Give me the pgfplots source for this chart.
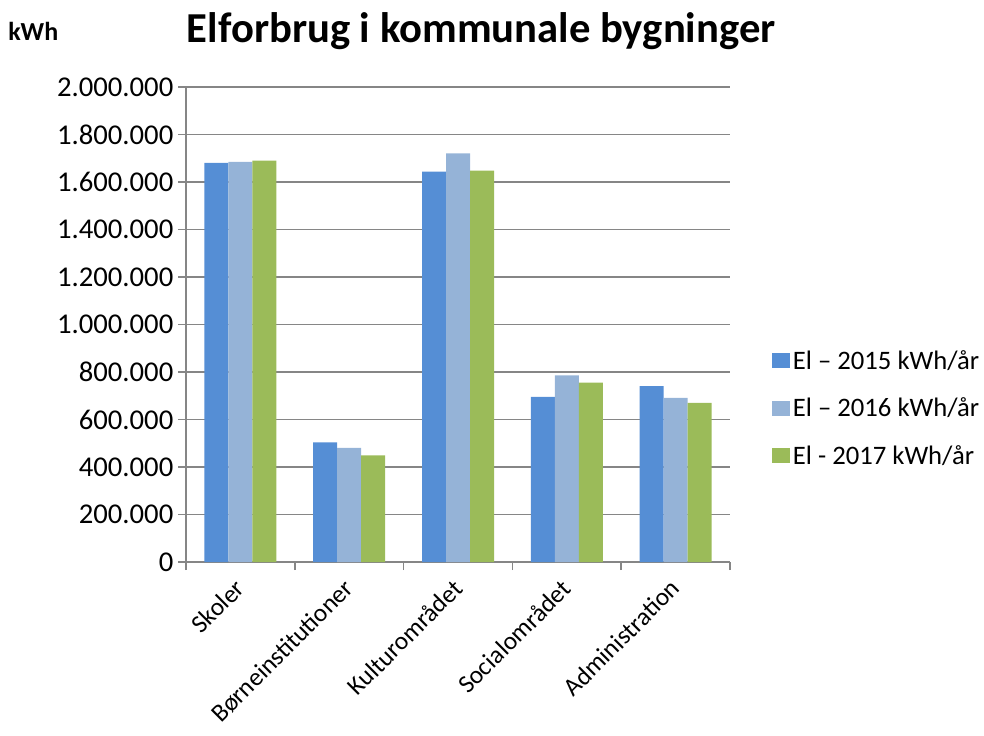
\documentclass[border=0pt]{standalone}
\usepackage{pgfplots}
\pgfplotsset{compat=1.18}
\usepackage{fontspec}
\setmainfont{Carlito}
\definecolor{c15}{RGB}{85,142,213}
\definecolor{c16}{RGB}{149,179,215}
\definecolor{c17}{RGB}{155,187,89}
\definecolor{axgray}{RGB}{134,134,134}
\begin{document}
\begin{tikzpicture}
\path[use as bounding box] (0,0) rectangle (738pt,551.25pt);
\node[anchor=base west, font=\fontsize{19.5}{22}\selectfont\bfseries, inner sep=0pt] at (6pt,521pt) {kWh};
\node[anchor=base west, font=\fontsize{32}{36}\selectfont\bfseries, inner sep=0pt] at (140pt,519pt) {Elforbrug i kommunale bygninger};
\begin{axis}[
  at={(139.5pt,129.75pt)}, anchor=south west,
  scale only axis, width=408pt, height=356.25pt,
  ybar=0pt, bar width=18pt,
  ymin=0, ymax=2000000, ytick={0,200000,400000,600000,800000,1000000,1200000,1400000,1600000,1800000,2000000},
  scaled y ticks=false,
  /pgf/number format/.cd, fixed, 1000 sep={.}, assume math mode=true, /pgfplots/.cd,
  xmin=-0.5, xmax=4.5,
  xtick={-0.5,0.5,1.5,2.5,3.5,4.5}, xticklabels={},
  extra x ticks={0,1,2,3,4},
  extra x tick labels={Skoler,Børneinstitutioner,Kulturområdet,Socialområdet,Administration},
  extra x tick style={major tick length=0pt, xticklabel style={xshift=-5pt, yshift=-10pt, rotate=45, anchor=north east, inner sep=1pt, font=\fontsize{19}{23}\selectfont}},
  axis x line*=bottom, axis y line*=left,
  axis line style={axgray, line width=1.1pt},
  tick style={axgray, line width=1.1pt},
  major tick length=6pt, tick align=outside,
  ymajorgrids, major grid style={axgray, line width=1.1pt},
  tick label style={font=\fontsize{21.5}{25}\selectfont, black},
  legend style={at={(1,0.3236)}, anchor=west, xshift=28pt, draw=none, fill=none,
    font=\fontsize{20}{24}\selectfont, row sep=16pt},
  legend cell align=left,
  legend image code/.code={\path (0pt,-5.6pt) rectangle (14pt,5.6pt);\fill[#1] (0pt,-5.6pt) rectangle (11.2pt,5.6pt);},
]
\addplot[fill=c15, draw=none] coordinates {(0,1680000) (1,504000) (2,1644000) (3,695000) (4,740000)};
\addplot[fill=c16, draw=none] coordinates {(0,1685000) (1,480000) (2,1720000) (3,786000) (4,691000)};
\addplot[fill=c17, draw=none] coordinates {(0,1690000) (1,449000) (2,1648000) (3,755000) (4,670000)};
\legend{El – 2015 kWh/år, El – 2016 kWh/år, El - 2017 kWh/år}
\end{axis}
\end{tikzpicture}
\end{document}
